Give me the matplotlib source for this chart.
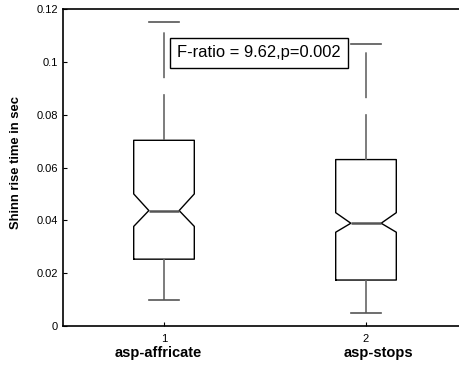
#!/usr/bin/env python

import matplotlib
matplotlib.use('Agg')
import matplotlib.pyplot as plt
from matplotlib.ticker import FormatStrFormatter

# box statistics (seconds)
groups = ['asp-affricate', 'asp-stops']
medians = [0.0437, 0.0389]
q1 = [0.0253, 0.0174]
q3 = [0.0703, 0.0630]
whis_lo = [0.0099, 0.0049]
whis_hi = [0.1150, 0.1068]
notch_lo = [0.0377, 0.0355]
notch_hi = [0.0500, 0.0429]
annotation = 'F-ratio = 9.62,p=0.002'

plt.rcParams['font.family'] = ['Liberation Sans', 'DejaVu Sans']

stats = []
for i in range(len(groups)):
    stats.append(dict(med=medians[i], q1=q1[i], q3=q3[i],
                      whislo=whis_lo[i], whishi=whis_hi[i],
                      cilo=notch_lo[i], cihi=notch_hi[i], fliers=[]))

fig = plt.figure(figsize=(4.59, 3.65), dpi=100)
ax = fig.add_axes([63 / 459, 39 / 365, 404 / 459, 317 / 365])

ax.bxp(stats, positions=[1, 2], widths=0.3, shownotches=True,
       showfliers=False,
       boxprops=dict(color='black', linewidth=1.0),
       whiskerprops=dict(color='#666666', linewidth=1.2, linestyle=(0, (27.5, 9.6))),
       capprops=dict(color='#555555', linewidth=1.2),
       medianprops=dict(color='#555555', linewidth=1.8))

ax.set_xlim(0.5, 2.5)
ax.set_ylim(0, 0.12)
ax.set_yticks([0, 0.02, 0.04, 0.06, 0.08, 0.1, 0.12])
ax.yaxis.set_major_formatter(FormatStrFormatter('%g'))
ax.set_xticks([1, 2])
ax.set_xticklabels(['1', '2'])
ax.tick_params(direction='in', length=3, labelsize=8, width=0.8)
ax.tick_params(axis='x', pad=6)
for s in ax.spines.values():
    s.set_linewidth(1.2)

ax.set_ylabel('Shinn rise time in sec', fontsize=9.4, fontweight='bold')
ax.yaxis.set_label_coords(-0.101, 0.516)

label_x = [0.97, 2.06]
for x, name in zip(label_x, groups):
    ax.text(x, -0.0074, name, ha='center', va='top', fontsize=10.5,
            fontweight='bold', clip_on=False)

ax.text(1.066, 0.1034, annotation, ha='left', va='center', fontsize=11.9,
        bbox=dict(boxstyle='square,pad=0.45', facecolor='white',
                  edgecolor='black', linewidth=1.0))

fig.savefig('out.png', dpi=100)
